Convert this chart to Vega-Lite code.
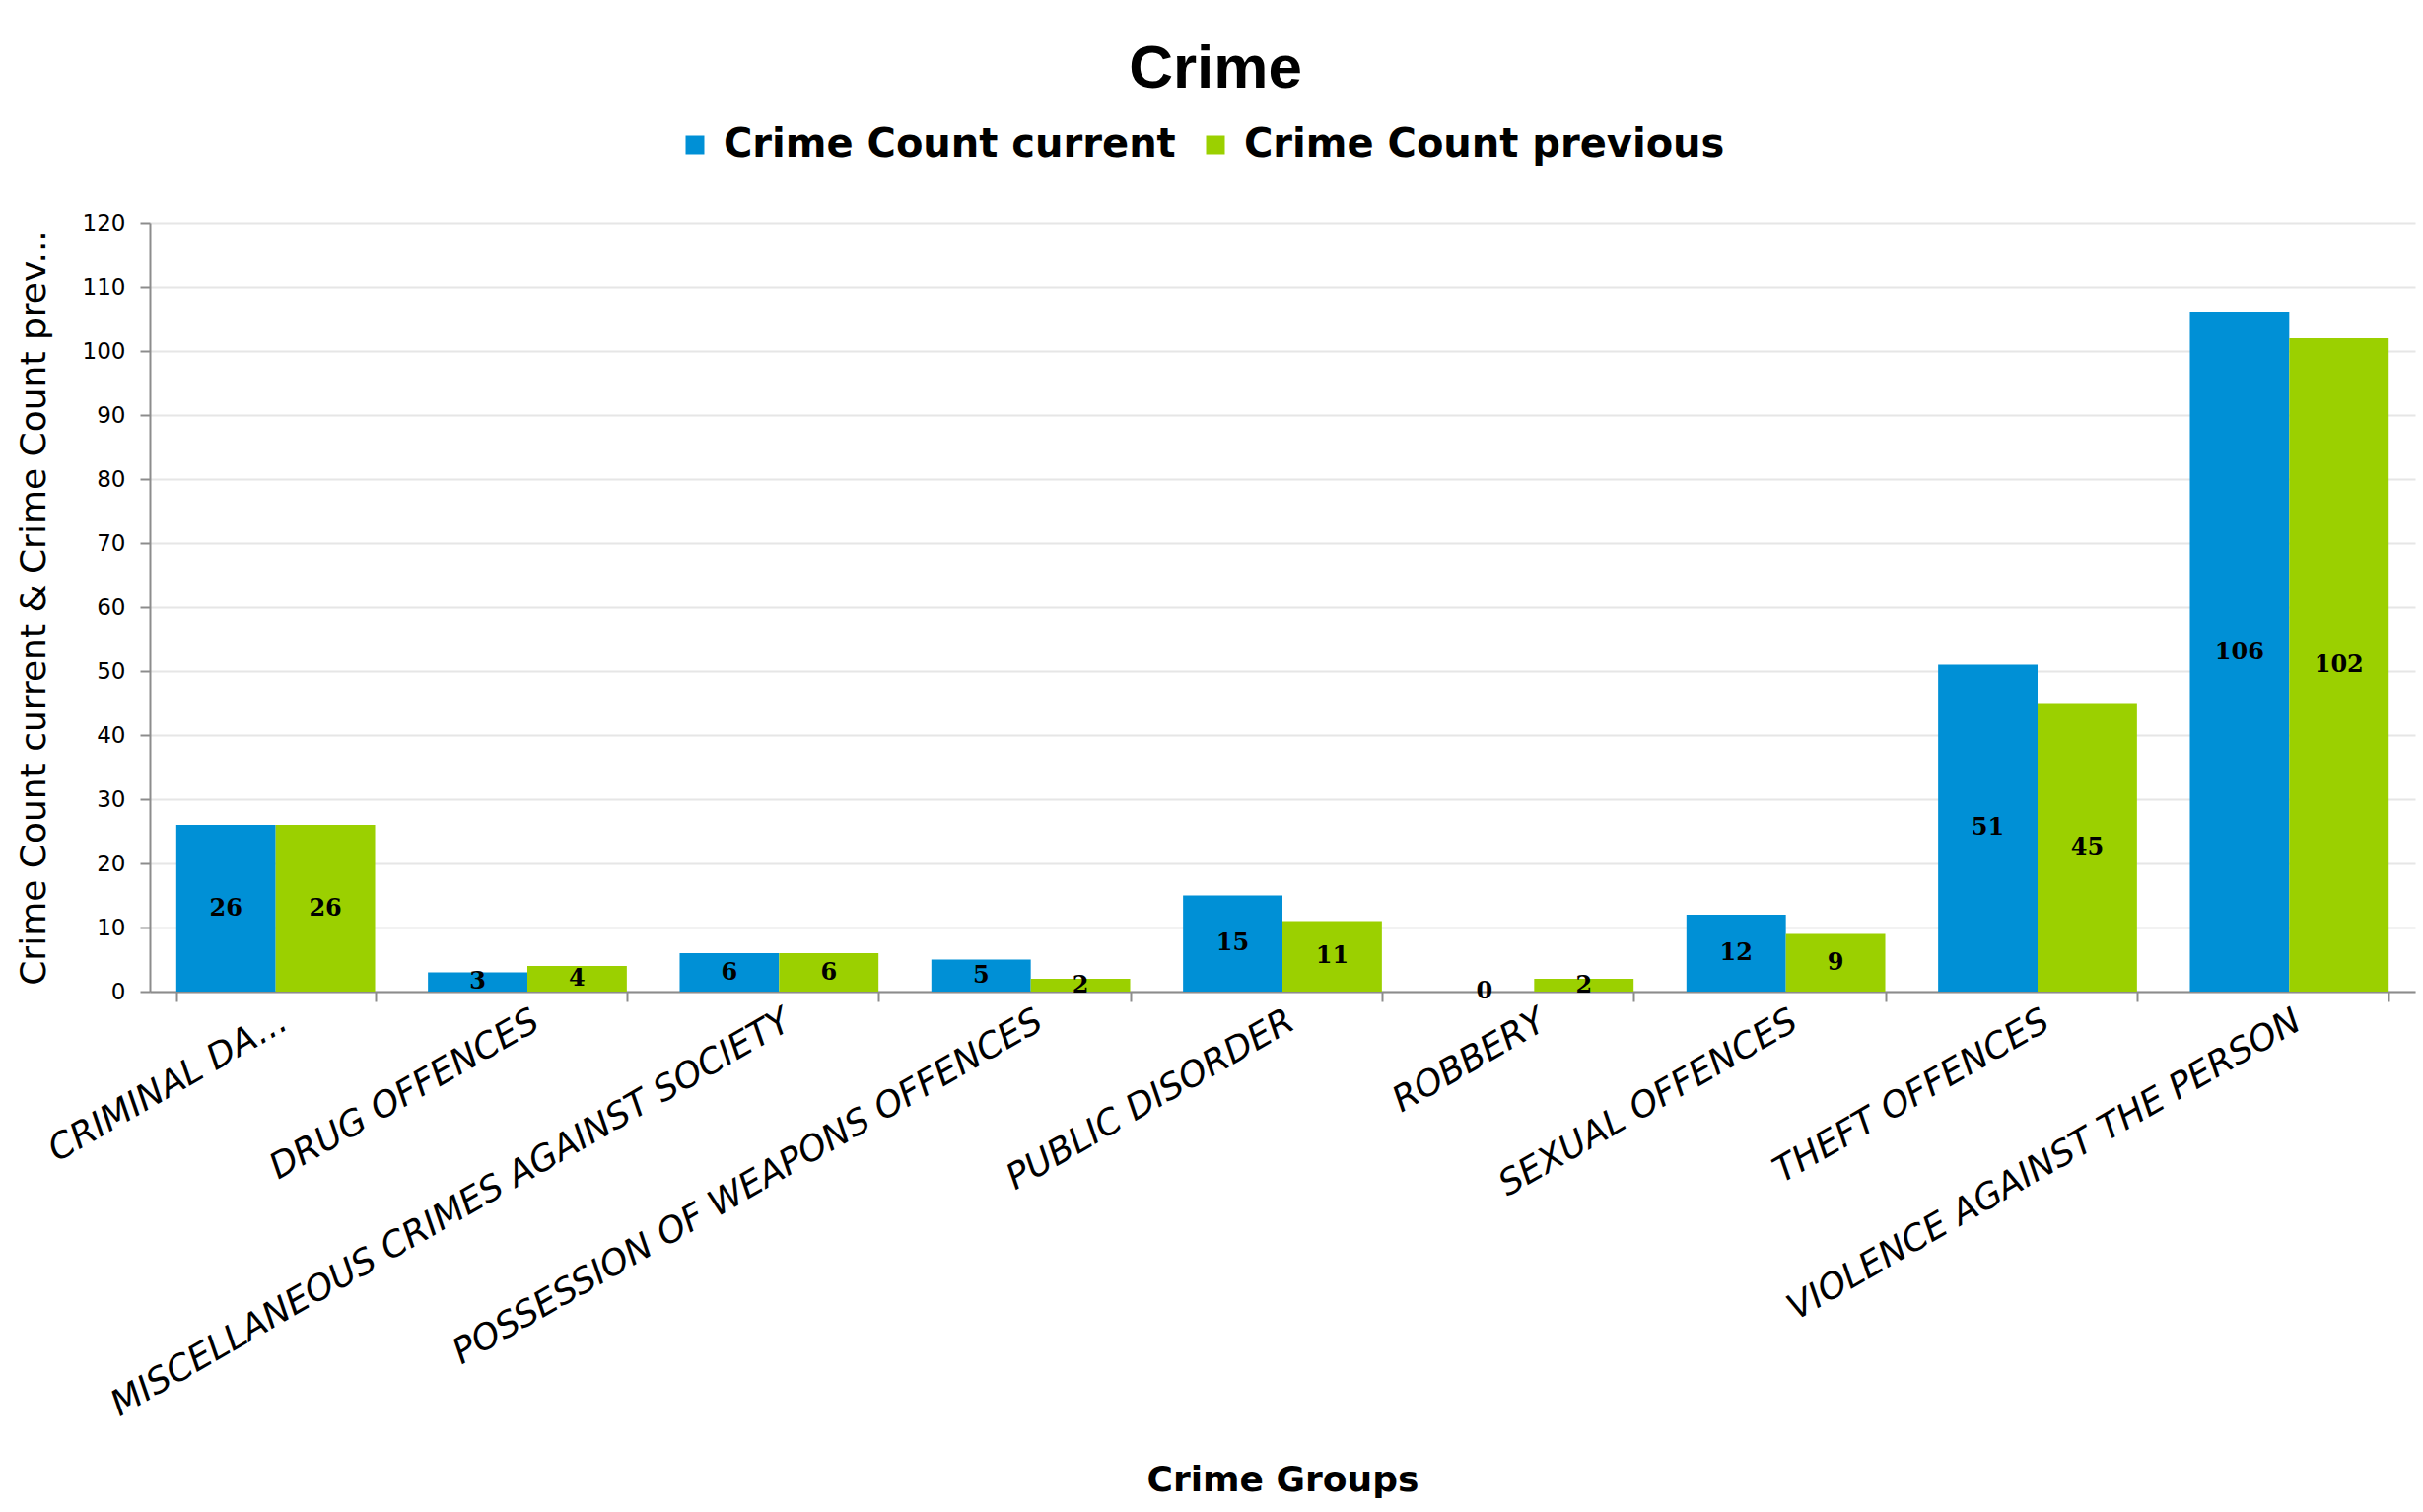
{
  "$schema": "https://vega.github.io/schema/vega-lite/v6.json",
  "width": 2298,
  "height": 780,
  "autosize": {"type": "none"},
  "padding": {"left": 152, "top": 226, "right": 8, "bottom": 528},
  "background": "white",
  "title": {"text": "Crime", "font": "Liberation Sans", "fontSize": 62, "fontWeight": "bold", "color": "black", "anchor": "middle", "frame": "bounds", "offset": 25},
  "data": {
    "values": [
      {"group": "CRIMINAL DA...", "series": "Crime Count current", "count": 26},
      {"group": "CRIMINAL DA...", "series": "Crime Count previous", "count": 26},
      {"group": "DRUG OFFENCES", "series": "Crime Count current", "count": 3},
      {"group": "DRUG OFFENCES", "series": "Crime Count previous", "count": 4},
      {"group": "MISCELLANEOUS CRIMES AGAINST SOCIETY", "series": "Crime Count current", "count": 6},
      {"group": "MISCELLANEOUS CRIMES AGAINST SOCIETY", "series": "Crime Count previous", "count": 6},
      {"group": "POSSESSION OF WEAPONS OFFENCES", "series": "Crime Count current", "count": 5},
      {"group": "POSSESSION OF WEAPONS OFFENCES", "series": "Crime Count previous", "count": 2},
      {"group": "PUBLIC DISORDER", "series": "Crime Count current", "count": 15},
      {"group": "PUBLIC DISORDER", "series": "Crime Count previous", "count": 11},
      {"group": "ROBBERY", "series": "Crime Count current", "count": 0},
      {"group": "ROBBERY", "series": "Crime Count previous", "count": 2},
      {"group": "SEXUAL OFFENCES", "series": "Crime Count current", "count": 12},
      {"group": "SEXUAL OFFENCES", "series": "Crime Count previous", "count": 9},
      {"group": "THEFT OFFENCES", "series": "Crime Count current", "count": 51},
      {"group": "THEFT OFFENCES", "series": "Crime Count previous", "count": 45},
      {"group": "VIOLENCE AGAINST THE PERSON", "series": "Crime Count current", "count": 106},
      {"group": "VIOLENCE AGAINST THE PERSON", "series": "Crime Count previous", "count": 102}
    ]
  },
  "encoding": {
    "x": {
      "field": "group",
      "type": "nominal",
      "sort": null,
      "scale": {"paddingInner": 0.21, "paddingOuter": 0.105},
      "title": "Crime Groups",
      "axis": {
        "labelAngle": -30,
        "labelAlign": "right",
        "labelBaseline": "top",
        "labelFont": "DejaVu Sans",
        "labelFontSize": 36,
        "labelFontStyle": "italic",
        "labelColor": "black",
        "labelLimit": 2000,
        "labelPadding": 2,
        "labelOverlap": false,
        "tickBand": "extent",
        "tickSize": 10,
        "tickWidth": 2,
        "tickColor": "#8c8c8c",
        "domainColor": "#8c8c8c",
        "domainWidth": 2,
        "grid": false,
        "titleFont": "DejaVu Sans",
        "titleFontSize": 36,
        "titleFontWeight": "bold",
        "titleColor": "black",
        "titlePadding": 278
      }
    },
    "xOffset": {"field": "series", "type": "nominal", "sort": ["Crime Count current", "Crime Count previous"]}
  },
  "layer": [
    {
      "mark": {"type": "bar"},
      "encoding": {
        "y": {
          "field": "count",
          "type": "quantitative",
          "scale": {"domain": [0, 120], "nice": false},
          "title": "Crime Count current & Crime Count prev...",
          "axis": {
            "values": [0, 10, 20, 30, 40, 50, 60, 70, 80, 90, 100, 110, 120],
            "grid": true,
            "gridColor": "#e6e6e6",
            "gridWidth": 2,
            "tickSize": 10,
            "tickWidth": 2,
            "tickColor": "#8c8c8c",
            "domainColor": "#8c8c8c",
            "domainWidth": 2,
            "labelFont": "DejaVu Sans",
            "labelFontSize": 23,
            "labelColor": "black",
            "labelPadding": 15,
            "titleFont": "DejaVu Sans",
            "titleFontSize": 36,
            "titleFontWeight": "normal",
            "titleColor": "black",
            "titlePadding": 30
          }
        },
        "color": {
          "field": "series",
          "type": "nominal",
          "scale": {"domain": ["Crime Count current", "Crime Count previous"], "range": ["#0090d6", "#9bd000"]},
          "legend": {
            "title": null,
            "orient": "none",
            "legendX": 533,
            "legendY": -99,
            "direction": "horizontal",
            "symbolType": "square",
            "symbolSize": 361,
            "symbolStrokeWidth": 0,
            "labelFont": "DejaVu Sans",
            "labelFontSize": 40,
            "labelFontWeight": "bold",
            "labelColor": "black",
            "labelOffset": 9,
            "labelLimit": 1000,
            "columnPadding": 20
          }
        }
      }
    },
    {
      "mark": {"type": "text", "font": "DejaVu Serif", "fontWeight": "bold", "fontSize": 24, "baseline": "middle", "align": "center", "color": "black"},
      "encoding": {
        "y": {"field": "count", "type": "quantitative", "scale": {"domain": [0, 240], "nice": false}, "axis": null},
        "text": {"field": "count", "type": "quantitative"}
      }
    }
  ],
  "resolve": {"scale": {"y": "independent"}},
  "config": {"view": {"stroke": null}}
}
